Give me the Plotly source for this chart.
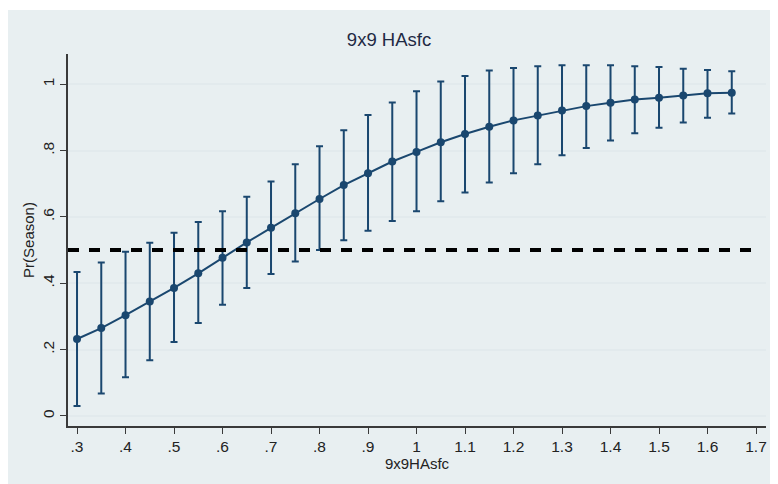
import plotly.graph_objects as go

# ---- data ----
x_vals = [0.30, 0.35, 0.40, 0.45, 0.50, 0.55, 0.60, 0.65, 0.70, 0.75, 0.80, 0.85,
          0.90, 0.95, 1.00, 1.05, 1.10, 1.15, 1.20, 1.25, 1.30, 1.35, 1.40, 1.45,
          1.50, 1.55, 1.60, 1.65]
pr_season = [0.232, 0.265, 0.304, 0.345, 0.386, 0.430, 0.477, 0.523, 0.567, 0.611,
             0.654, 0.696, 0.732, 0.767, 0.796, 0.825, 0.850, 0.872, 0.891, 0.906,
             0.921, 0.934, 0.944, 0.954, 0.959, 0.966, 0.973, 0.974]
ci_upper = [0.434, 0.463, 0.495, 0.522, 0.552, 0.585, 0.617, 0.661, 0.707, 0.759,
            0.813, 0.861, 0.907, 0.945, 0.979, 1.008, 1.025, 1.041, 1.049, 1.054,
            1.057, 1.057, 1.057, 1.054, 1.052, 1.047, 1.043, 1.039]
ci_lower = [0.030, 0.068, 0.117, 0.168, 0.223, 0.280, 0.335, 0.386, 0.428, 0.466,
            0.500, 0.530, 0.558, 0.588, 0.617, 0.647, 0.674, 0.704, 0.732, 0.759,
            0.786, 0.808, 0.830, 0.852, 0.869, 0.885, 0.899, 0.912]
threshold = 0.5

x_tickvals = [0.3, 0.4, 0.5, 0.6, 0.7, 0.8, 0.9, 1.0, 1.1, 1.2, 1.3, 1.4, 1.5, 1.6, 1.7]
x_ticktext = [".3", ".4", ".5", ".6", ".7", ".8", ".9", "1", "1.1", "1.2", "1.3", "1.4", "1.5", "1.6", "1.7"]
y_tickvals = [0, 0.2, 0.4, 0.6, 0.8, 1.0]
y_ticktext = ["0", ".2", ".4", ".6", ".8", "1"]

title_text = "9x9 HAsfc"
x_title = "9x9HAsfc"
y_title = "Pr(Season)"

# ---- style ----
NAVY = "#1a476f"
BG = "#e8eff1"
GRID = "#e2eaed"
AXIS = "#3a3a3a"
FONT = "Liberation Sans, Arial, sans-serif"
x_range = [0.2814, 1.7206]
y_range = [-0.0302, 1.0911]

err_plus = [u - p for u, p in zip(ci_upper, pr_season)]
err_minus = [p - l for p, l in zip(pr_season, ci_lower)]

fig = go.Figure()
fig.add_trace(go.Scatter(
    x=x_vals, y=pr_season, mode="lines+markers",
    line=dict(color=NAVY, width=2),
    marker=dict(color=NAVY, size=8),
    error_y=dict(type="data", symmetric=False, array=err_plus, arrayminus=err_minus,
                 color=NAVY, thickness=2, width=3.5),
    showlegend=False,
))

# the page body adds an 8px offset; the figure is sized to fill the rest of the window
OFF = 8
W, H = 778 - OFF, 484 - OFF
ml, mr, mt, mb = 68 - OFF, 12, 54 - OFF, 58
pw, ph = W - ml - mr, H - mt - mb

def px_x(p):
    return (p - OFF - ml) / pw

def px_y(p):
    return (H + OFF - mb - p) / ph

fig.add_shape(type="rect", xref="paper", yref="paper", layer="below",
              x0=px_x(OFF), x1=px_x(770), y0=px_y(484), y1=px_y(10),
              fillcolor=BG, line=dict(width=0))
fig.add_shape(type="line", xref="x", yref="y", layer="above",
              x0=x_range[0], x1=1.7, y0=threshold, y1=threshold,
              line=dict(color="black", width=4, dash="11px,10px"))

fig.update_layout(
    width=W, height=H,
    margin=dict(l=ml, r=mr, t=mt, b=mb, autoexpand=False),
    paper_bgcolor="white", plot_bgcolor="white",
    font=dict(family=FONT, color="#222222", size=15),
    title=dict(text=title_text, x=(389 - OFF) / W, xref="container", xanchor="center",
               y=1 - (40 - OFF) / H, yanchor="middle", yref="container",
               font=dict(size=18.5, color="#1f2a44"), automargin=False),
)
fig.update_xaxes(
    range=x_range, tickvals=x_tickvals, ticktext=x_ticktext, automargin=False,
    showgrid=False, zeroline=False, showline=True, linecolor=AXIS, linewidth=1.5,
    ticks="outside", ticklen=6, tickcolor=AXIS, tickwidth=1,
    tickfont=dict(size=15.5, color="#222222"),
    title=dict(text=x_title, font=dict(size=15, color="#222222"), standoff=3),
)
fig.update_yaxes(
    range=y_range, tickvals=y_tickvals, ticktext=y_ticktext, tickangle=-90, automargin=False,
    showgrid=True, gridcolor=GRID, gridwidth=1.5, zeroline=False,
    showline=True, linecolor=AXIS, linewidth=1.5,
    ticks="outside", ticklen=6, tickcolor=AXIS, tickwidth=1,
    tickfont=dict(size=15.5, color="#222222"),
    title=dict(text=y_title, font=dict(size=15, color="#222222"), standoff=2),
)

fig.write_html("out.html")
